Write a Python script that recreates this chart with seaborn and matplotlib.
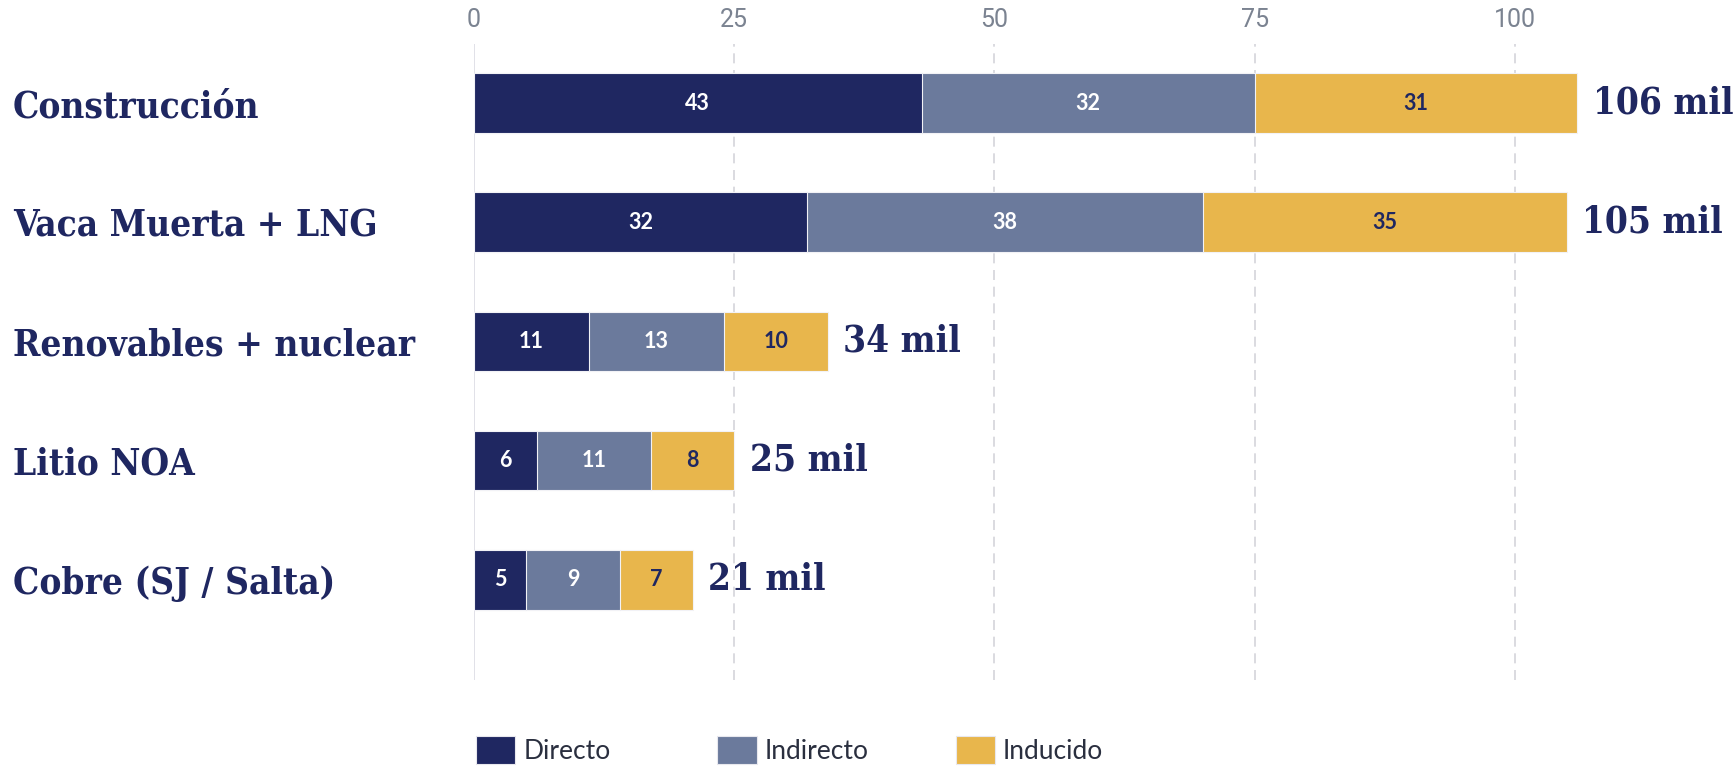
import numpy as np
import pandas as pd
import matplotlib
matplotlib.use("Agg")
import matplotlib.pyplot as plt
from matplotlib.patches import Patch
from matplotlib import font_manager
import seaborn as sns

# data
sectors = ["Construcción", "Vaca Muerta + LNG", "Renovables + nuclear", "Litio NOA", "Cobre (SJ / Salta)"]
directo = [43, 32, 11, 6, 5]
indirecto = [32, 38, 13, 11, 9]
inducido = [31, 35, 10, 8, 7]
series_names = ["Directo", "Indirecto", "Inducido"]
xticks = [0, 25, 50, 75, 100]

NAVY = "#1f2761"
SLATE = "#6b7a9c"
GOLD = "#e8b64c"
colors = [NAVY, SLATE, GOLD]

df = pd.DataFrame({"sector": sectors, "Directo": directo,
                   "Indirecto": indirecto, "Inducido": inducido})
df["c1"] = df["Directo"]
df["c2"] = df["c1"] + df["Indirecto"]
df["c3"] = df["c2"] + df["Inducido"]

sns.set_style("white")
plt.rcParams["font.family"] = ["Lato", "DejaVu Sans"]

# serif for the labels: condensed DejaVu Serif if present, else Liberation Serif
serif = dict(family="Liberation Serif", stretch="normal", size=29)
try:
    fp = font_manager.FontProperties(family="DejaVu Serif", weight="bold", stretch="condensed")
    path = font_manager.findfont(fp, fallback_to_default=False)
    if "Condensed" in path:
        serif = dict(family="DejaVu Serif", stretch="condensed", size=26.5)
except Exception:
    pass

fig = plt.figure(figsize=(17.34, 7.68), dpi=100)
ax = fig.add_axes([0.2734, 0.1146, 0.7203, 0.828])

# stacked bars: draw cumulative totals from longest to shortest
for col, c in zip(["c3", "c2", "c1"], [GOLD, SLATE, NAVY]):
    sns.barplot(data=df, x=col, y="sector", orient="h", color=c, width=0.5,
                saturation=1, edgecolor="#f2f2f6", linewidth=0.8, ax=ax, zorder=3)

# segment labels
for i, row in df.iterrows():
    starts = [0, row["c1"], row["c2"]]
    vals = [row["Directo"], row["Indirecto"], row["Inducido"]]
    for s, v, tc in zip(starts, vals, ["white", "white", NAVY]):
        ax.text(s + v / 2, i, f"{v}", ha="center", va="center", color=tc,
                fontsize=15.5, fontweight="bold", family=["Lato", "DejaVu Sans"], zorder=5)
    ax.annotate(f"{row['c3']} mil", xy=(row["c3"], i), xytext=(11, 0),
                textcoords="offset points", ha="left", va="center",
                fontsize=serif["size"], fontweight="bold", color=NAVY,
                family=serif["family"], fontstretch=serif["stretch"])

ax.set_xlim(0, 120)
ax.set_ylim(4.84, -0.495)
ax.set_xlabel("")
ax.set_ylabel("")
for s in ax.spines.values():
    s.set_visible(False)

# grid lines
ax.axvline(0, color="#dcdce4", lw=1.2, zorder=1)
for t in xticks[1:]:
    ax.axvline(t, color="#d4d4da", lw=1.2, ls=(0, (6, 4)), zorder=1)

ax.set_xticks(xticks)
ax.xaxis.tick_top()
ax.tick_params(axis="x", length=0, pad=9, labelsize=18, labelcolor="#7b8391")
for lbl in ax.get_xticklabels():
    lbl.set_family(["Roboto", "DejaVu Sans"])
    lbl.set_fontweight("normal")

ax.tick_params(axis="y", length=0, pad=332)
for lbl in ax.get_yticklabels():
    lbl.set_horizontalalignment("left")
    lbl.set_fontsize(serif["size"])
    lbl.set_fontweight("bold")
    lbl.set_color(NAVY)
    lbl.set_family(serif["family"])
    lbl.set_fontstretch(serif["stretch"])

# legend: one entry per fixed slot
for name, c, x0 in zip(series_names, colors, [0.2667, 0.4060, 0.5435]):
    h = Patch(facecolor=c, edgecolor="#e8e8ee", lw=0.8)
    fig.legend([h], [name], loc="lower left", bbox_to_anchor=(x0, -0.012),
               frameon=False, fontsize=19, handlelength=1.5, handleheight=1.23,
               handletextpad=0.3, borderpad=0, labelcolor="#2a2f3f")

fig.savefig("out.png", dpi=100, facecolor="white")
